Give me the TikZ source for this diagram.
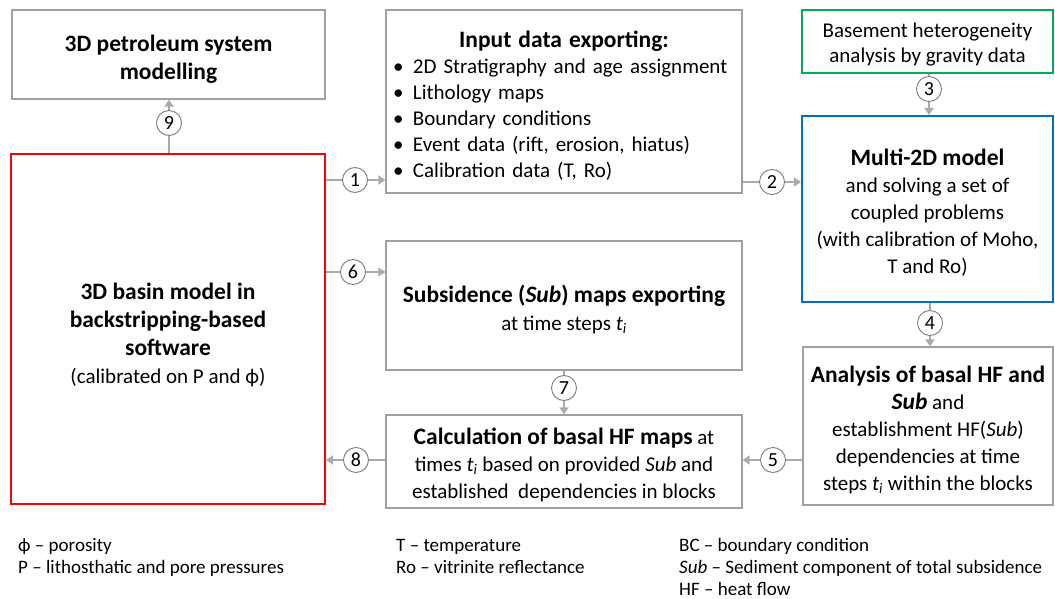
\documentclass[tikz,border=0pt]{standalone}
\usepackage{fontspec}
\setmainfont{Carlito}
\usetikzlibrary{arrows.meta}
\definecolor{bgray}{RGB}{160,160,160}
\definecolor{agray}{RGB}{170,170,170}
\definecolor{cgray}{RGB}{125,125,125}
\definecolor{pred}{RGB}{255,0,0}
\definecolor{pblue}{RGB}{0,112,192}
\definecolor{pgreen}{RGB}{0,176,80}
\newcommand{\ti}{\textit{t}\textsubscript{\textit{i}}}
\newcommand{\SubBI}{\textbf{\textit{Sub}}}
\newcommand{\bigb}{\fontsize{23.5}{28}\selectfont\bfseries}
\newcommand{\bul}{\makebox[22pt][l]{\hspace{2pt}\textbullet}}
\newcommand{\tstrut}[1]{\rule{0pt}{#1}}
\begin{document}
\begin{tikzpicture}[x=1pt,y=-1pt,
  box/.style={draw=bgray,line width=1.2pt,fill=white,inner sep=1pt,align=center,
    font=\fontsize{21}{27}\selectfont},
  num/.style={circle,draw=cgray,line width=0.9pt,fill=white,minimum size=25pt,
    inner sep=0pt,font=\fontsize{20}{20}\selectfont},
  conn/.style={draw=agray,line width=2.6pt},
  arr/.style={conn,-{Triangle[length=7pt,width=9pt]}},
  legend/.style={anchor=base west,inner sep=0pt,font=\fontsize{19}{19}\selectfont}]
\useasboundingbox (0,0) rectangle (1055,599);

% boxes
\node[box,minimum width=313pt,minimum height=89pt,font=\fontsize{23.5}{28}\selectfont\bfseries] (A) at (168.5,54.5)
  {\tstrut{26pt}3D petroleum system\\modelling};
\node[box,minimum width=356pt,minimum height=183pt,text width=346pt,align=left,
  font=\fontsize{21}{26}\selectfont] (B) at (564,101.5)
  {{\centering\bigb\tstrut{24pt}Input data exporting:\par}
   \raggedright
   \bul 2D Stratigraphy and age assignment\\
   \bul Lithology maps\\
   \bul Boundary conditions\\
   \bul Event data (rift, erosion, hiatus)\\
   \bul Calibration data (T, Ro)};
\node[box,draw=pgreen,line width=2pt,minimum width=251pt,minimum height=63pt,font=\fontsize{21}{25}\selectfont] (C) at (927.5,41.5)
  {\tstrut{21pt}Basement heterogeneity\\analysis by gravity data};
\node[box,draw=pblue,line width=2pt,minimum width=251pt,minimum height=186pt] (D) at (927.5,209)
  {{\bigb\tstrut{24pt}Multi-2D model}\\and solving a set of\\coupled problems\\(with calibration of Moho,\\T and Ro)};
\node[box,draw=pred,line width=2pt,minimum width=314pt,minimum height=350pt,font=\fontsize{21}{28}\selectfont] (E) at (168,329)
  {{\bigb\tstrut{28pt}3D basin model in}\\{\bigb backstripping-based}\\{\bigb software}\\(calibrated on P and ϕ)};
\node[box,minimum width=356pt,minimum height=129pt,font=\fontsize{21}{28}\selectfont] (F) at (564,305.5)
  {{\bigb\tstrut{26pt}Subsidence (\textit{Sub}) maps exporting}\\at time steps \ti};
\node[box,minimum width=356pt,minimum height=93pt] (G) at (564,461.5)
  {{\bigb\tstrut{24pt}Calculation of basal HF maps} at\\times \ti{} based on provided \textit{Sub} and\\established\ \ dependencies in blocks};
\node[box,minimum width=250pt,minimum height=158pt] (H) at (928,426)
  {{\bigb\tstrut{24pt}Analysis of basal HF and}\\{\bigb\SubBI} and\\establishment HF(\textit{Sub})\\dependencies at time\\steps \ti{} within the blocks};

% numbered circles
\node[num] (n1) at (355,180) {1};
\node[num] (n2) at (772,182) {2};
\node[num] (n3) at (929,89) {3};
\node[num] (n4) at (930,323) {4};
\node[num] (n5) at (773,460) {5};
\node[num] (n6) at (353,272) {6};
\node[num] (n7) at (564,388) {7};
\node[num] (n8) at (356,460) {8};
\node[num] (n9) at (169,123) {9};

% connectors
\draw[conn] (E.east|-n1) -- (n1); \draw[arr] (n1) -- (B.west|-n1);
\draw[conn] (B.east|-n2) -- (n2); \draw[arr] (n2) -- (D.west|-n2);
\draw[conn] (C.south-|n3) -- (n3); \draw[arr] (n3) -- (D.north-|n3);
\draw[conn] (D.south-|n4) -- (n4); \draw[arr] (n4) -- (H.north-|n4);
\draw[conn] (H.west|-n5) -- (n5); \draw[arr] (n5) -- (G.east|-n5);
\draw[conn] (E.east|-n6) -- (n6); \draw[arr] (n6) -- (F.west|-n6);
\draw[conn] (F.south-|n7) -- (n7); \draw[arr] (n7) -- (G.north-|n7);
\draw[conn] (G.west|-n8) -- (n8); \draw[arr] (n8) -- (E.east|-n8);
\draw[conn] (E.north-|n9) -- (n9); \draw[arr] (n9) -- (A.south-|n9);

% legend
\node[legend] (l1) at (18,551) {ϕ – porosity};
\node[legend] (l2) at (18,573) {P – lithosthatic and pore pressures};
\node[legend] (l3) at (396,551) {T – temperature};
\node[legend] (l4) at (396,573) {Ro – vitrinite reflectance};
\node[legend] (l5) at (679,551) {BC – boundary condition};
\node[legend] (l6) at (679,573) {\textit{Sub} – Sediment component of total subsidence};
\node[legend] (l7) at (679,595) {HF – heat flow};
\end{tikzpicture}
\end{document}
